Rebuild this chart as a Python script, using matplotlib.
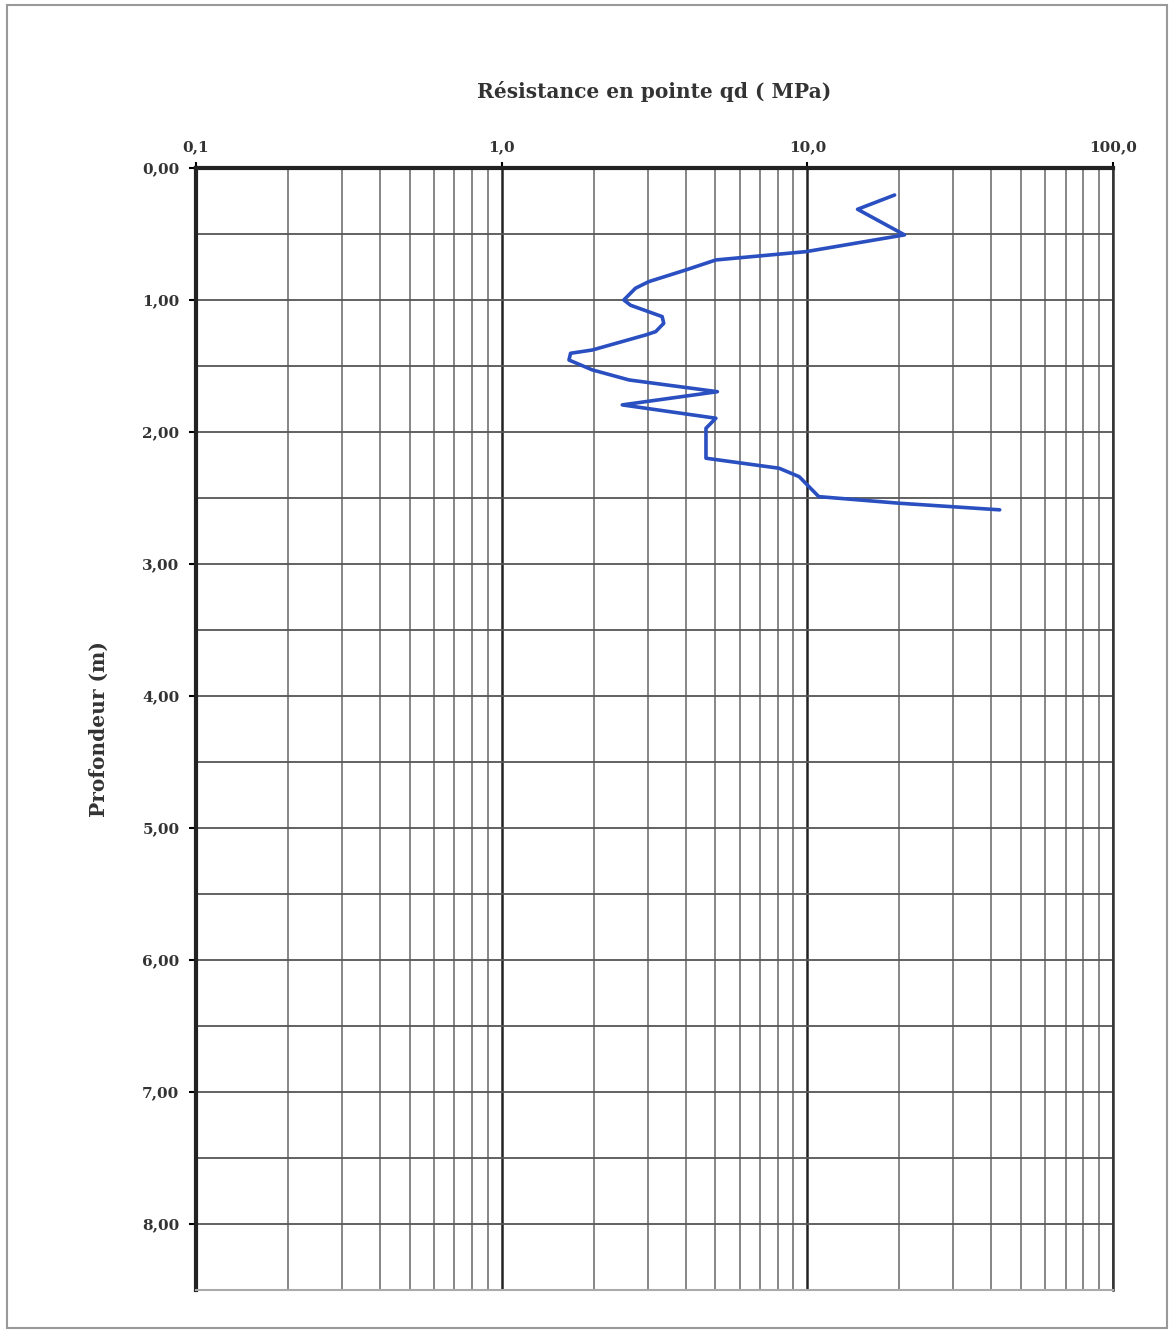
import matplotlib
matplotlib.use("Agg")
import matplotlib.pyplot as plt
from matplotlib.ticker import FixedLocator, NullFormatter
import numpy as np

# Data: resistance qd (MPa) vs depth (m)
qd = [19.3, 14.6, 20.8, 9.9, 5.02, 4.0, 3.03, 2.74, 2.51, 2.64, 3.35, 3.39, 3.19,
      2.96, 1.98, 1.68, 1.66, 1.98, 2.61, 5.08, 2.48, 5.02, 4.66, 4.66, 8.09, 9.41,
      10.9, 20.0, 42.6]
depth = [0.205, 0.313, 0.507, 0.634, 0.697, 0.773, 0.861, 0.911, 1.00, 1.04, 1.126,
         1.177, 1.24, 1.265, 1.379, 1.404, 1.455, 1.53, 1.606, 1.695, 1.795, 1.896,
         1.972, 2.199, 2.275, 2.339, 2.49, 2.54, 2.59]

x_ticks = [0.1, 1.0, 10.0, 100.0]
x_labels = ["0,1", "1,0", "10,0", "100,0"]
y_ticks = [0, 1, 2, 3, 4, 5, 6, 7, 8]
y_labels = ["0,00", "1,00", "2,00", "3,00", "4,00", "5,00", "6,00", "7,00", "8,00"]

plt.rcParams['font.family'] = ['DejaVu Serif', 'Liberation Serif']

fig = plt.figure(figsize=(11.74, 13.33), dpi=100)
ax = fig.add_axes([0.167, 0.0323, 0.781, 0.8417])

ax.set_xscale('log')
ax.set_xlim(0.1, 100)
ax.set_ylim(8.5, 0)

# grid
minor_x = [m * 10.0 ** e for e in (-1, 0, 1) for m in range(2, 10)]
ax.xaxis.set_minor_locator(FixedLocator(minor_x))
ax.xaxis.set_minor_formatter(NullFormatter())
ax.set_xticks(x_ticks)
ax.set_xticklabels(x_labels)
ax.set_yticks(y_ticks)
ax.set_yticklabels(y_labels)
ax.yaxis.set_minor_locator(FixedLocator(np.arange(0.5, 8.5, 1.0)))

ax.grid(True, which='major', axis='x', color='#222222', linewidth=1.8)
ax.grid(True, which='minor', axis='x', color='#666666', linewidth=1.1)
ax.grid(True, which='both', axis='y', color='#555555', linewidth=1.3)

ax.xaxis.tick_top()
ax.xaxis.set_label_position('top')
ax.tick_params(axis='x', which='major', length=4, width=1.5, pad=6, labelsize=11)
ax.tick_params(axis='x', which='minor', length=0)
ax.tick_params(axis='y', which='major', length=5, width=1.5, pad=7, labelsize=11)
ax.tick_params(axis='y', which='minor', length=0)
for lab in ax.get_xticklabels() + ax.get_yticklabels():
    lab.set_fontweight('bold')
    lab.set_color('#333333')

for side in ('left', 'top'):
    ax.spines[side].set_linewidth(3)
    ax.spines[side].set_color('#222222')
ax.spines['right'].set_linewidth(1.8)
ax.spines['right'].set_color('#333333')
ax.spines['bottom'].set_linewidth(1.5)
ax.spines['bottom'].set_color('#aaaaaa')

ax.plot(qd, depth, color='#2a4fc0', linewidth=2.6, zorder=5,
        solid_joinstyle='round', solid_capstyle='round')

ax.set_xlabel("Résistance en pointe qd ( MPa)", fontsize=14.5, fontweight='bold',
              color='#333333', labelpad=30)
ax.set_ylabel("Profondeur (m)", fontsize=14.5, fontweight='bold', color='#333333',
              labelpad=24)

# page frame
fig.patches.append(plt.Rectangle((0.006, 0.004), 0.988, 0.992, transform=fig.transFigure,
                                 fill=False, edgecolor='#999999', linewidth=1.5))

fig.savefig("out.png", dpi=100)
